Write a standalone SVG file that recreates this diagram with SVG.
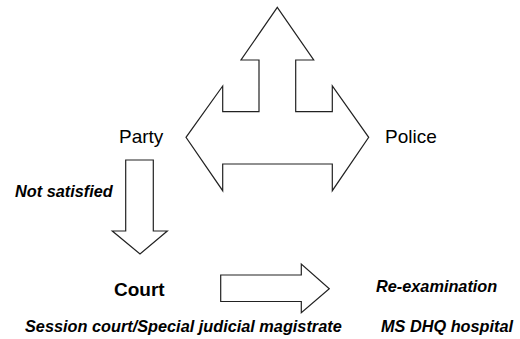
<svg xmlns="http://www.w3.org/2000/svg" width="520" height="339" viewBox="0 0 520 339">
<style>
.arrow{fill:#fff;stroke:#222;stroke-width:1.2;stroke-linejoin:miter}
.lbl{font-family:"Liberation Sans",Arial,sans-serif;fill:#000}
.plain{font-size:19px}
.bi{font-size:16.3px;font-weight:bold;font-style:italic}
.b{font-size:19px;font-weight:bold}
</style>
<rect width="520" height="339" fill="#fff"/>
<g id="connectors">
<polygon id="three-way" class="arrow" points="277.3,7.3 313.7,60 295.7,60 295.7,111.7 332.3,111.7 332.3,86 368.7,137.3 332.3,190.7 332.3,164 222.7,164 222.7,190.7 186,137.3 222.7,86 222.7,111.7 259,111.7 259,60 241,60"/>
<polygon id="down-arrow" class="arrow" points="125.7,160 153.3,160 153.3,231 167.3,231 140,254 112.3,231 125.7,231"/>
<polygon id="right-arrow" class="arrow" points="220.7,275 301.3,275 301.3,264 329.3,288.7 301.3,312.7 301.3,301.5 220.7,301.5"/>
</g>
<g id="party"><text class="lbl plain" x="119" y="143.3">Party</text></g>
<g id="police"><text class="lbl plain" x="385" y="143.3">Police</text></g>
<g id="not-satisfied"><text class="lbl bi" x="15" y="197.3">Not satisfied</text></g>
<g id="court"><text class="lbl b" x="114" y="295.5">Court</text></g>
<g id="session"><text class="lbl bi" x="25" y="331.5">Session court/Special judicial magistrate</text></g>
<g id="reexam"><text class="lbl bi" x="376" y="292">Re-examination</text></g>
<g id="hospital"><text class="lbl bi" x="381" y="331.5">MS DHQ hospital</text></g>
</svg>
